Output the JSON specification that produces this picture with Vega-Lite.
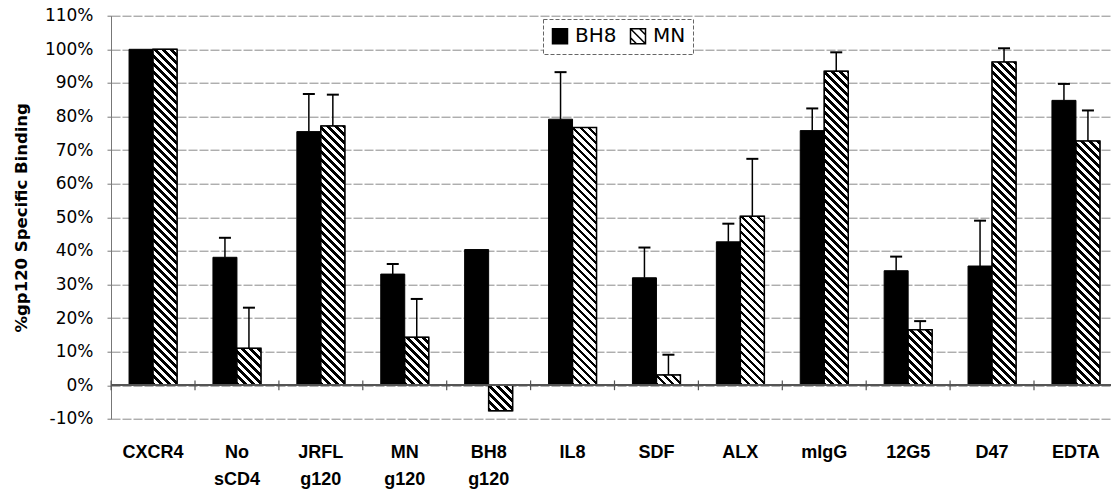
{
  "$schema": "https://vega.github.io/schema/vega-lite/v6.json",
  "width": 1000,
  "height": 403.2,
  "autosize": {"type": "none"},
  "padding": {"left": 111, "top": 15.7, "right": 2, "bottom": 72.1},
  "background": "#ffffff",
  "params": [
    {"name": "hs", "value": [
      {"offset":0,"color":"#000"},{"offset":0.009,"color":"#000"},{"offset":0.009,"color":"#fff"},{"offset":0.02,"color":"#fff"},
      {"offset":0.02,"color":"#000"},{"offset":0.029,"color":"#000"},{"offset":0.029,"color":"#fff"},{"offset":0.04,"color":"#fff"},
      {"offset":0.04,"color":"#000"},{"offset":0.049,"color":"#000"},{"offset":0.049,"color":"#fff"},{"offset":0.06,"color":"#fff"},
      {"offset":0.06,"color":"#000"},{"offset":0.069,"color":"#000"},{"offset":0.069,"color":"#fff"},{"offset":0.08,"color":"#fff"},
      {"offset":0.08,"color":"#000"},{"offset":0.089,"color":"#000"},{"offset":0.089,"color":"#fff"},{"offset":0.1,"color":"#fff"},
      {"offset":0.1,"color":"#000"},{"offset":0.109,"color":"#000"},{"offset":0.109,"color":"#fff"},{"offset":0.12,"color":"#fff"},
      {"offset":0.12,"color":"#000"},{"offset":0.129,"color":"#000"},{"offset":0.129,"color":"#fff"},{"offset":0.14,"color":"#fff"},
      {"offset":0.14,"color":"#000"},{"offset":0.149,"color":"#000"},{"offset":0.149,"color":"#fff"},{"offset":0.16,"color":"#fff"},
      {"offset":0.16,"color":"#000"},{"offset":0.169,"color":"#000"},{"offset":0.169,"color":"#fff"},{"offset":0.18,"color":"#fff"},
      {"offset":0.18,"color":"#000"},{"offset":0.189,"color":"#000"},{"offset":0.189,"color":"#fff"},{"offset":0.2,"color":"#fff"},
      {"offset":0.2,"color":"#000"},{"offset":0.209,"color":"#000"},{"offset":0.209,"color":"#fff"},{"offset":0.22,"color":"#fff"},
      {"offset":0.22,"color":"#000"},{"offset":0.229,"color":"#000"},{"offset":0.229,"color":"#fff"},{"offset":0.24,"color":"#fff"},
      {"offset":0.24,"color":"#000"},{"offset":0.249,"color":"#000"},{"offset":0.249,"color":"#fff"},{"offset":0.26,"color":"#fff"},
      {"offset":0.26,"color":"#000"},{"offset":0.269,"color":"#000"},{"offset":0.269,"color":"#fff"},{"offset":0.28,"color":"#fff"},
      {"offset":0.28,"color":"#000"},{"offset":0.289,"color":"#000"},{"offset":0.289,"color":"#fff"},{"offset":0.3,"color":"#fff"},
      {"offset":0.3,"color":"#000"},{"offset":0.309,"color":"#000"},{"offset":0.309,"color":"#fff"},{"offset":0.32,"color":"#fff"},
      {"offset":0.32,"color":"#000"},{"offset":0.329,"color":"#000"},{"offset":0.329,"color":"#fff"},{"offset":0.34,"color":"#fff"},
      {"offset":0.34,"color":"#000"},{"offset":0.349,"color":"#000"},{"offset":0.349,"color":"#fff"},{"offset":0.36,"color":"#fff"},
      {"offset":0.36,"color":"#000"},{"offset":0.369,"color":"#000"},{"offset":0.369,"color":"#fff"},{"offset":0.38,"color":"#fff"},
      {"offset":0.38,"color":"#000"},{"offset":0.389,"color":"#000"},{"offset":0.389,"color":"#fff"},{"offset":0.4,"color":"#fff"},
      {"offset":0.4,"color":"#000"},{"offset":0.409,"color":"#000"},{"offset":0.409,"color":"#fff"},{"offset":0.42,"color":"#fff"},
      {"offset":0.42,"color":"#000"},{"offset":0.429,"color":"#000"},{"offset":0.429,"color":"#fff"},{"offset":0.44,"color":"#fff"},
      {"offset":0.44,"color":"#000"},{"offset":0.449,"color":"#000"},{"offset":0.449,"color":"#fff"},{"offset":0.46,"color":"#fff"},
      {"offset":0.46,"color":"#000"},{"offset":0.469,"color":"#000"},{"offset":0.469,"color":"#fff"},{"offset":0.48,"color":"#fff"},
      {"offset":0.48,"color":"#000"},{"offset":0.489,"color":"#000"},{"offset":0.489,"color":"#fff"},{"offset":0.5,"color":"#fff"},
      {"offset":0.5,"color":"#000"},{"offset":0.509,"color":"#000"},{"offset":0.509,"color":"#fff"},{"offset":0.52,"color":"#fff"},
      {"offset":0.52,"color":"#000"},{"offset":0.529,"color":"#000"},{"offset":0.529,"color":"#fff"},{"offset":0.54,"color":"#fff"},
      {"offset":0.54,"color":"#000"},{"offset":0.549,"color":"#000"},{"offset":0.549,"color":"#fff"},{"offset":0.56,"color":"#fff"},
      {"offset":0.56,"color":"#000"},{"offset":0.569,"color":"#000"},{"offset":0.569,"color":"#fff"},{"offset":0.58,"color":"#fff"},
      {"offset":0.58,"color":"#000"},{"offset":0.589,"color":"#000"},{"offset":0.589,"color":"#fff"},{"offset":0.6,"color":"#fff"},
      {"offset":0.6,"color":"#000"},{"offset":0.609,"color":"#000"},{"offset":0.609,"color":"#fff"},{"offset":0.62,"color":"#fff"},
      {"offset":0.62,"color":"#000"},{"offset":0.629,"color":"#000"},{"offset":0.629,"color":"#fff"},{"offset":0.64,"color":"#fff"},
      {"offset":0.64,"color":"#000"},{"offset":0.649,"color":"#000"},{"offset":0.649,"color":"#fff"},{"offset":0.66,"color":"#fff"},
      {"offset":0.66,"color":"#000"},{"offset":0.669,"color":"#000"},{"offset":0.669,"color":"#fff"},{"offset":0.68,"color":"#fff"},
      {"offset":0.68,"color":"#000"},{"offset":0.689,"color":"#000"},{"offset":0.689,"color":"#fff"},{"offset":0.7,"color":"#fff"},
      {"offset":0.7,"color":"#000"},{"offset":0.709,"color":"#000"},{"offset":0.709,"color":"#fff"},{"offset":0.72,"color":"#fff"},
      {"offset":0.72,"color":"#000"},{"offset":0.729,"color":"#000"},{"offset":0.729,"color":"#fff"},{"offset":0.74,"color":"#fff"},
      {"offset":0.74,"color":"#000"},{"offset":0.749,"color":"#000"},{"offset":0.749,"color":"#fff"},{"offset":0.76,"color":"#fff"},
      {"offset":0.76,"color":"#000"},{"offset":0.769,"color":"#000"},{"offset":0.769,"color":"#fff"},{"offset":0.78,"color":"#fff"},
      {"offset":0.78,"color":"#000"},{"offset":0.789,"color":"#000"},{"offset":0.789,"color":"#fff"},{"offset":0.8,"color":"#fff"},
      {"offset":0.8,"color":"#000"},{"offset":0.809,"color":"#000"},{"offset":0.809,"color":"#fff"},{"offset":0.82,"color":"#fff"},
      {"offset":0.82,"color":"#000"},{"offset":0.829,"color":"#000"},{"offset":0.829,"color":"#fff"},{"offset":0.84,"color":"#fff"},
      {"offset":0.84,"color":"#000"},{"offset":0.849,"color":"#000"},{"offset":0.849,"color":"#fff"},{"offset":0.86,"color":"#fff"},
      {"offset":0.86,"color":"#000"},{"offset":0.869,"color":"#000"},{"offset":0.869,"color":"#fff"},{"offset":0.88,"color":"#fff"},
      {"offset":0.88,"color":"#000"},{"offset":0.889,"color":"#000"},{"offset":0.889,"color":"#fff"},{"offset":0.9,"color":"#fff"},
      {"offset":0.9,"color":"#000"},{"offset":0.909,"color":"#000"},{"offset":0.909,"color":"#fff"},{"offset":0.92,"color":"#fff"},
      {"offset":0.92,"color":"#000"},{"offset":0.929,"color":"#000"},{"offset":0.929,"color":"#fff"},{"offset":0.94,"color":"#fff"},
      {"offset":0.94,"color":"#000"},{"offset":0.949,"color":"#000"},{"offset":0.949,"color":"#fff"},{"offset":0.96,"color":"#fff"},
      {"offset":0.96,"color":"#000"},{"offset":0.969,"color":"#000"},{"offset":0.969,"color":"#fff"},{"offset":0.98,"color":"#fff"},
      {"offset":0.98,"color":"#000"},{"offset":0.989,"color":"#000"},{"offset":0.989,"color":"#fff"},{"offset":1,"color":"#fff"}
    ]}
  ],
  "data": {"values": [
    {"cat": "CXCR4", "series": "BH8", "value": 100, "upper": null},
    {"cat": "CXCR4", "series": "MN", "value": 100, "upper": null},
    {"cat": "No sCD4", "series": "BH8", "value": 38.1, "upper": 43.9},
    {"cat": "No sCD4", "series": "MN", "value": 11.0, "upper": 23.1},
    {"cat": "JRFL g120", "series": "BH8", "value": 75.5, "upper": 86.7},
    {"cat": "JRFL g120", "series": "MN", "value": 77.2, "upper": 86.5},
    {"cat": "MN g120", "series": "BH8", "value": 33.1, "upper": 36.1},
    {"cat": "MN g120", "series": "MN", "value": 14.3, "upper": 25.7},
    {"cat": "BH8 g120", "series": "BH8", "value": 40.4, "upper": null},
    {"cat": "BH8 g120", "series": "MN", "value": -7.6, "upper": null},
    {"cat": "IL8", "series": "BH8", "value": 79.2, "upper": 93.2},
    {"cat": "IL8", "series": "MN", "value": 76.7, "upper": null},
    {"cat": "SDF", "series": "BH8", "value": 32.0, "upper": 41.0},
    {"cat": "SDF", "series": "MN", "value": 3.1, "upper": 9.1},
    {"cat": "ALX", "series": "BH8", "value": 42.7, "upper": 48.1},
    {"cat": "ALX", "series": "MN", "value": 50.3, "upper": 67.4},
    {"cat": "mIgG", "series": "BH8", "value": 75.8, "upper": 82.4},
    {"cat": "mIgG", "series": "MN", "value": 93.5, "upper": 99.1},
    {"cat": "12G5", "series": "BH8", "value": 34.1, "upper": 38.3},
    {"cat": "12G5", "series": "MN", "value": 16.5, "upper": 19.1},
    {"cat": "D47", "series": "BH8", "value": 35.5, "upper": 49.0},
    {"cat": "D47", "series": "MN", "value": 96.2, "upper": 100.3},
    {"cat": "EDTA", "series": "BH8", "value": 84.8, "upper": 89.7},
    {"cat": "EDTA", "series": "MN", "value": 72.7, "upper": 81.8}
  ]},
  "layer": [
    {
      "mark": {"type": "bar", "stroke": "#000", "strokeWidth": 1},
      "encoding": {
        "x": {"field": "cat", "type": "nominal", "sort": null,
          "scale": {"paddingInner": 0.428, "paddingOuter": 0.1735, "align": 0.62},
          "axis": {"title": null, "orient": "bottom", "labelExpr": "split(datum.label, ' ')", "labelAngle": 0, "ticks": false, "domain": false, "grid": false,
            "labelPadding": 25, "labelFont": "Liberation Sans", "labelFontSize": 18, "labelFontWeight": "bold", "labelColor": "#000", "labelLineHeight": 27}},
        "xOffset": {"field": "series", "type": "nominal", "scale": {"domain": ["BH8", "MN"], "paddingInner": 0, "paddingOuter": 0}},
        "y": {"field": "value", "type": "quantitative", "stack": null,
          "scale": {"domain": [-10, 110], "nice": false, "zero": false},
          "axis": {"title": "%gp120 Specific Binding", "values": [-10, 0, 10, 20, 30, 40, 50, 60, 70, 80, 90, 100, 110], "tickCount": 13,
            "labelOverlap": false,
            "labelExpr": "datum.value + '%'", "grid": true, "gridColor": "#8a8a8a", "gridDash": [9, 2], "gridWidth": 1,
            "domainColor": "#777", "tickColor": "#777", "tickSize": 4, "labelPadding": 14,
            "labelFont": "DejaVu Sans", "labelFontSize": 17, "labelColor": "#000",
            "titleFont": "DejaVu Sans", "titleFontSize": 16.5, "titleFontWeight": "bold", "titlePadding": 15, "titleColor": "#000"}},
        "fill": {"field": "series", "type": "nominal", "scale": {"domain": ["BH8", "MN"], "range": ["#000", "#fff"]},
          "legend": {"title": null, "orient": "none", "legendX": 432, "legendY": 3.3, "direction": "horizontal",
            "symbolType": "M-1,-1H1V1H-1ZM-1,-1L1,1M0.2,-1L1,-0.2M-1,0.2L-0.2,1", "symbolSize": 225,
            "symbolStrokeColor": "#000", "symbolStrokeWidth": 1.5,
            "labelFont": "DejaVu Sans", "labelFontSize": 20, "labelColor": "#000", "labelOffset": 5,
            "columnPadding": 10, "padding": 7, "strokeColor": "#666", "fillColor": "#fff"}}
      }
    },
    {
      "transform": [{"filter": "datum.series === 'MN'"}],
      "mark": {"type": "bar", "stroke": "#000", "strokeWidth": 1.5,
        "fill": {"expr": "{gradient: 'linear', x1: 0, y1: 1, x2: 9600 / (576 + pow(scale('y', datum.value) - scale('y', 0), 2)), y2: 1 - 400 * abs(scale('y', datum.value) - scale('y', 0)) / (576 + pow(scale('y', datum.value) - scale('y', 0), 2)), stops: hs}"}},
      "encoding": {
        "x": {"field": "cat", "type": "nominal", "sort": null},
        "xOffset": {"field": "series", "type": "nominal"},
        "y": {"field": "value", "type": "quantitative", "stack": null}
      }
    },
    {
      "transform": [{"filter": "isValid(datum.upper)"}],
      "mark": {"type": "rule", "color": "#000", "strokeWidth": 1.5},
      "encoding": {
        "x": {"field": "cat", "type": "nominal", "sort": null},
        "xOffset": {"field": "series", "type": "nominal"},
        "y": {"field": "value", "type": "quantitative"},
        "y2": {"field": "upper"}
      }
    },
    {
      "transform": [{"filter": "isValid(datum.upper)"}],
      "mark": {"type": "tick", "color": "#000", "size": 12, "thickness": 2, "opacity": 1},
      "encoding": {
        "x": {"field": "cat", "type": "nominal", "sort": null},
        "xOffset": {"field": "series", "type": "nominal"},
        "y": {"field": "upper", "type": "quantitative"}
      }
    },
    {
      "mark": {"type": "rule", "color": "#555", "strokeWidth": 1},
      "encoding": {"y": {"datum": 0}}
    },
    {
      "transform": [{"filter": "datum.series === 'BH8'"}],
      "mark": {"type": "rule", "color": "#555", "strokeWidth": 1.2},
      "encoding": {
        "x": {"field": "cat", "type": "nominal", "sort": null, "bandPosition": -0.374},
        "y": {"datum": -1.45},
        "y2": {"datum": 1.45}
      }
    }
  ],
  "config": {
    "view": {"stroke": null},
    "legend": {"strokeDash": [4, 2]}
  }
}
